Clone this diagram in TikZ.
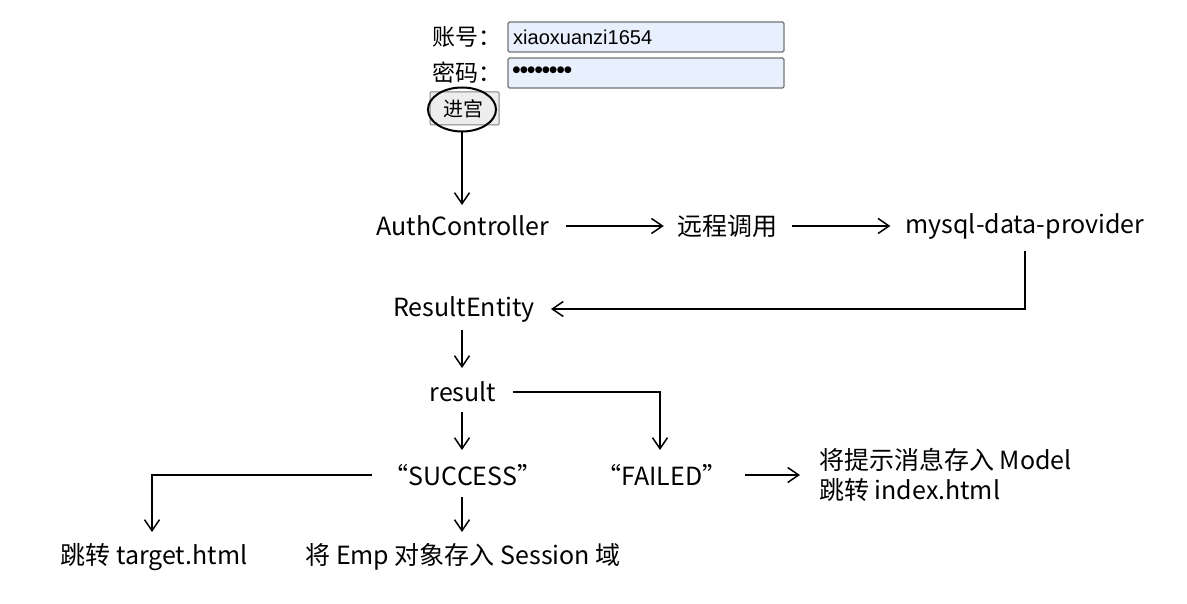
\documentclass[tikz,border=0pt]{standalone}
\usepackage{fontspec}
\setmainfont{Noto Sans CJK SC}
\newfontfamily\inputfont{Liberation Sans}
\usetikzlibrary{arrows.meta,shapes.geometric}
\definecolor{inputfill}{RGB}{232,240,254}
\tikzset{
  lbl/.style={inner sep=0pt, anchor=center, font=\fontsize{25}{30}\selectfont},
  conn/.style={line width=1.5pt, -{Straight Barb[length=11pt,width=15pt,line width=1.5pt]}},
  inbox/.style={draw=black!55, fill=inputfill, line width=1.3pt, rounded corners=1.5pt},
}
\newcommand{\pwdot}{\raisebox{-0.5pt}{\fontsize{25}{26}\selectfont\textbullet}\kern-1.4pt}
\begin{document}
\begin{tikzpicture}[x=1pt,y=-1pt]
\useasboundingbox[fill=white] (0,0) rectangle (1187,604);
% login form
\node[lbl, anchor=east, font=\fontsize{23}{26}\selectfont] (lu) at (502,37) {账号：};
\node[lbl, anchor=east, font=\fontsize{23}{26}\selectfont] (lp) at (502,73) {密码：};
\draw[inbox] (508,22) rectangle (784,52);
\draw[inbox] (508,58) rectangle (784,88);
\node[inner sep=0pt, anchor=west, font=\inputfont\fontsize{20}{22}\selectfont] (user) at (513,37.5) {xiaoxuanzi1654};
\node[inner sep=0pt, anchor=west, font=\inputfont\fontsize{20}{22}\selectfont] (pass) at (512,73) {\pwdot\pwdot\pwdot\pwdot\pwdot\pwdot\pwdot\pwdot};
\draw[draw=black!50, fill=black!7, line width=1pt, rounded corners=1pt] (430,92) rectangle (499,125);
\node[lbl, font=\fontsize{20}{22}\selectfont] (btntext) at (463,108.5) {进宫};
\node[draw, ellipse, line width=2pt, minimum width=68pt, minimum height=44pt, inner sep=0pt] (btn) at (462,109.5) {};
% main flow
\node[lbl] (auth) at (463,226) {AuthController};
\node[lbl] (rpc) at (727,226) {远程调用};
\node[lbl] (mysql) at (1025,226) {mysql-data-provider};
\node[lbl] (re) at (464,309) {ResultEntity};
\node[lbl] (res) at (463,392) {result};
\node[lbl] (succ) at (463,475) {“SUCCESS”};
\node[lbl] (fail) at (662,475) {“FAILED”};
\node[lbl, anchor=west, align=left] (failact) at (819,475) {将提示消息存入 Model\\跳转 index.html};
\node[lbl] (target) at (154,557) {跳转 target.html};
\node[lbl] (sess) at (463,557) {将 Emp 对象存入 Session 域};
% connectors
\coordinate (authin) at (462,205);
\coordinate (succout) at (372,475);
\coordinate (failout) at (745,475);
\draw[conn] (btn.south -| authin) -- (authin);
\draw[conn] ([xshift=16pt]auth.east) -- ([xshift=-13pt]rpc.west);
\draw[conn] ([xshift=15pt]rpc.east) -- ([xshift=-15pt]mysql.west);
\draw[conn] ([yshift=-12pt]mysql.south) |- ([xshift=16pt]re.east);
\draw[conn] (462,330) -- (462,368);
\draw[conn] ([xshift=16pt]res.east) -| (660,450);
\draw[conn] (462,412) -- (462,450);
\draw[conn] (failout) -- ([xshift=-19pt]failact.west);
\draw[conn] (succout) -| (152,532);
\draw[conn] (462,497) -- (462,532);
\end{tikzpicture}
\end{document}
